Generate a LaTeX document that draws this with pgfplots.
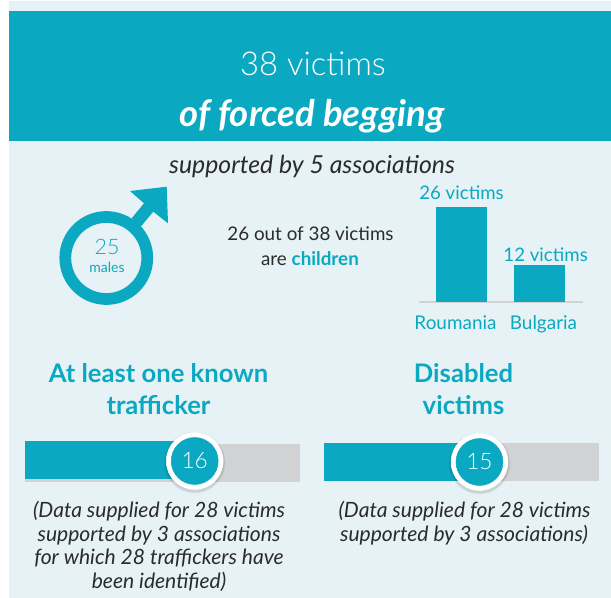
\documentclass[border=0pt]{standalone}
\usepackage{fontspec}
\setmainfont{Lato}
\newfontfamily\lightfont{Lato Light}
\usepackage{pgfplots}
\pgfplotsset{compat=1.18}

\definecolor{teal1}{HTML}{0AA9C1}
\definecolor{bgblue}{HTML}{E6F2F5}
\definecolor{bargrey}{HTML}{D1D2D4}
\definecolor{ink}{HTML}{2B2B2B}

\newcommand{\fs}[1]{\fontsize{#1}{#1}\selectfont}

\pgfplotsset{
  progress/.style={
    scale only axis, width=206pt, height=60pt,
    xmin=0, xmax=28, ymin=-40, ymax=40,
    hide axis, clip=false, anchor=west,
  },
}

% white ring with a soft shadow, number in the middle
\newcommand{\knob}[2]{
  \addplot[only marks, mark=*, mark size=23pt, mark options={draw opacity=0, fill=black, fill opacity=0.05, yshift=-1.2pt}] coordinates {(#1,0)};
  \addplot[only marks, mark=*, mark size=22.4pt, mark options={draw opacity=0, fill=black, fill opacity=0.08, yshift=-1.2pt}] coordinates {(#1,0)};
  \addplot[only marks, mark=*, mark size=21.3pt, mark options={draw=white, fill=white}] coordinates {(#1,0)};
  \addplot[only marks, mark=*, mark size=17.6pt, mark options={draw=teal1, fill=teal1},
    point meta=explicit symbolic, nodes near coords,
    every node near coord/.style={anchor=center, text=white, font=\lightfont\fs{17}}]
    coordinates {(#1,0) [#2]};
}

\begin{document}
\begin{tikzpicture}[x=0.75pt, y=-0.75pt]
% page and panels
\fill[white] (0,0) rectangle (611,598);
\fill[bgblue] (9,1) rectangle (611,598);
\fill[teal1] (9,11) rectangle (611,141);

% headings
\node[anchor=base, text=white, font=\lightfont\fs{24.6}] at (313,76) {38 victims};
\node[anchor=base, text=white, font=\bfseries\itshape\fs{27.4}] at (312,127) {of forced begging};
\node[anchor=base, text=ink, font=\itshape\fs{18.6}] at (312,174) {supported by 5 associations};
\node[anchor=base, text=ink, font=\fs{14.1}] at (310.5,241) {26 out of 38 victims};
\node[anchor=base, text=ink, font=\fs{14.1}] at (310,266) {are \textcolor{teal1}{\bfseries children}};
\node[anchor=base, text=teal1, font=\bfseries\fs{19.2}] at (158.5,383) {At least one known};
\node[anchor=base, text=teal1, font=\bfseries\fs{19.2}] at (158.5,415) {trafficker};
\node[anchor=base, text=teal1, font=\bfseries\fs{19.2}] at (463.5,383) {Disabled};
\node[anchor=base, text=teal1, font=\bfseries\fs{19.2}] at (463.5,415) {victims};

% male symbol
\draw[teal1, line width=8.8pt] (106.3,258) circle (41);
\fill[teal1] (130,191) -- (166.7,186.7) -- (168,223.3) -- (153.3,211.7) -- (140.7,226.7)
  -- (131.7,218.3) -- (144,203.3) -- cycle;
\node[anchor=base, text=teal1, font=\lightfont\fs{16}] at (107,255) {25};
\node[anchor=base, text=teal1, font=\fs{10.5}] at (107,273) {males};

% victims by country
\begin{axis}[
  at={(314.25pt,-226.5pt)}, anchor=south west,
  scale only axis, width=123pt, height=82.2pt,
  xmin=-0.545, xmax=1.558, ymin=0, ymax=30,
  xtick={0,1}, xticklabels={\hspace*{-9pt}Roumania,\hspace*{6pt}Bulgaria},
  axis y line=none, axis x line=bottom,
  axis line style={draw=bargrey, line width=2pt, -},
  major tick length=0pt, clip=false,
  xticklabel style={text=teal1, font=\fs{14.2}, yshift=-6.5pt},
]
\addplot[ybar, bar width=38.25pt, bar shift=0pt, draw=none, fill=teal1,
  point meta=explicit symbolic, nodes near coords,
  every node near coord/.style={anchor=south, text=teal1, inner sep=1pt, yshift=4pt, font=\fs{14}}]
  coordinates {(0,26) [26 victims]};
% the source draws this bar shorter than its label says: height as drawn, label as printed
\addplot[ybar, bar width=38.25pt, bar shift=0pt, draw=none, fill=teal1,
  point meta=explicit symbolic, nodes near coords,
  every node near coord/.style={anchor=south, text=teal1, inner sep=1pt, xshift=4.6pt, yshift=1.5pt, font=\fs{14}}]
  coordinates {(1,10.15) [12 victims]};
\end{axis}

% at least one known trafficker
\begin{axis}[progress, at={(18.75pt,-345.75pt)}]
\addplot[xbar, bar width=28.2pt, bar shift=-1.4pt, draw=none, fill=bargrey] coordinates {(28,0)};
\addplot[xbar, bar width=28.5pt, bar shift=0.75pt, draw=none, fill=teal1] coordinates {(16,0)};
\knob{17.3}{16}
\end{axis}

% disabled victims
\begin{axis}[progress, at={(243pt,-346.5pt)}]
\addplot[xbar, bar width=28.5pt, bar shift=0pt, draw=none, fill=bargrey] coordinates {(28,0)};
\addplot[xbar, bar width=28.5pt, bar shift=0pt, draw=none, fill=teal1] coordinates {(15,0)};
\knob{15.85}{15}
\end{axis}

% notes under the bars
\node[anchor=base, text=ink, font=\itshape\fs{15.8}] at (159,518) {(Data supplied for 28 victims};
\node[anchor=base, text=ink, font=\itshape\fs{15.8}] at (159,541.5) {supported by 3 associations};
\node[anchor=base, text=ink, font=\itshape\fs{15.8}] at (159,565) {for which 28 traffickers have};
\node[anchor=base, text=ink, font=\itshape\fs{15.8}] at (159,589) {been identified)};
\node[anchor=base, text=ink, font=\itshape\fs{15.8}] at (464.5,518) {(Data supplied for 28 victims};
\node[anchor=base, text=ink, font=\itshape\fs{15.8}] at (464,542) {supported by 3 associations)};
\end{tikzpicture}
\end{document}
